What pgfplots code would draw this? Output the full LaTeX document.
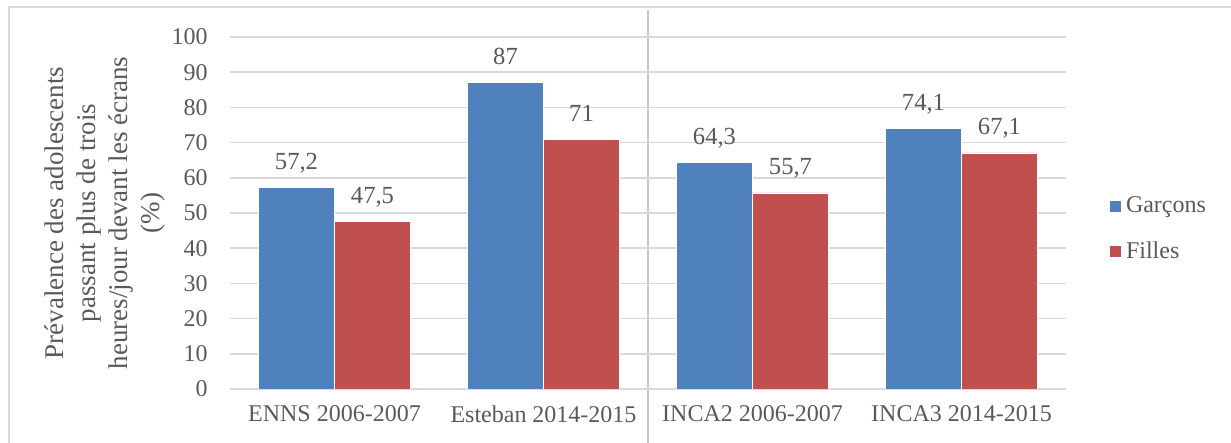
\documentclass[border=0pt]{standalone}
\usepackage{fontspec}
\setmainfont{Liberation Serif}
\usepackage{pgfplots}
\pgfplotsset{compat=1.18}
\definecolor{cblue}{HTML}{4F81BD}
\definecolor{cred}{HTML}{C0504D}
\definecolor{ctext}{HTML}{595959}
\definecolor{cgrid}{HTML}{D9D9D9}
\definecolor{csep}{HTML}{C8C8C8}
\begin{document}
\begin{tikzpicture}
\path[use as bounding box] (0,0) rectangle (615.5pt,221.5pt);
\draw[cgrid, line width=1pt] (4.5pt,0) -- (4.5pt,218pt) -- (615.5pt,218pt);
\draw[csep, line width=0.75pt] (324pt,0) -- (324pt,216.5pt);
\begin{axis}[
  at={(115pt,27pt)}, anchor=south west,
  scale only axis, width=418pt, height=176pt,
  ybar=0pt, bar width=38pt,
  xmin=-0.5, xmax=3.5, ymin=0, ymax=100,
  ytick={0,10,...,100},
  xtick={0,1,2,3},
  xticklabels={ENNS 2006-2007, Esteban 2014-2015, INCA2 2006-2007, INCA3 2014-2015},
  axis line style={draw=none},
  major tick length=0pt,
  ymajorgrids, grid style={cgrid, line width=0.75pt},
  tick label style={font=\fontsize{12}{14}\selectfont, text=ctext},
  yticklabel style={anchor=east, inner sep=0pt, xshift=-11pt},
  xticklabel style={anchor=north, inner sep=0pt, yshift=-8pt},
  /pgf/number format/assume math mode=true,
  /pgf/number format/use comma,
  nodes near coords,
  every node near coord/.append style={font=\fontsize{12.3}{14}\selectfont, text=ctext, anchor=base, inner sep=0pt, yshift=9pt},
  legend style={at={(1,0.455)}, anchor=west, xshift=21.5pt, draw=none, fill=none, inner sep=0pt,
    font=\fontsize{12}{14}\selectfont, text=ctext, row sep=9pt,
    /tikz/every odd column/.append style={column sep=0pt}},
  legend cell align=left,
  legend image code/.code={\fill[#1] (0pt,-3pt) rectangle (6pt,3pt);},
]
\addplot[fill=cblue, draw=white, line width=0.3pt] coordinates {(0,57.2) (1,87) (2,64.3) (3,74.1)};
\addplot[fill=cred, draw=white, line width=0.3pt] coordinates {(0,47.5) (1,71) (2,55.7) (3,67.1)};
\legend{Garçons, Filles}
\end{axis}
\node[rotate=90, align=center, text=ctext, font=\fontsize{13.5}{16}\selectfont] at (52.5pt,115pt)
  {Prévalence des adolescents\\passant plus de trois\\heures/jour devant les écrans\\(\%)};
\end{tikzpicture}
\end{document}
